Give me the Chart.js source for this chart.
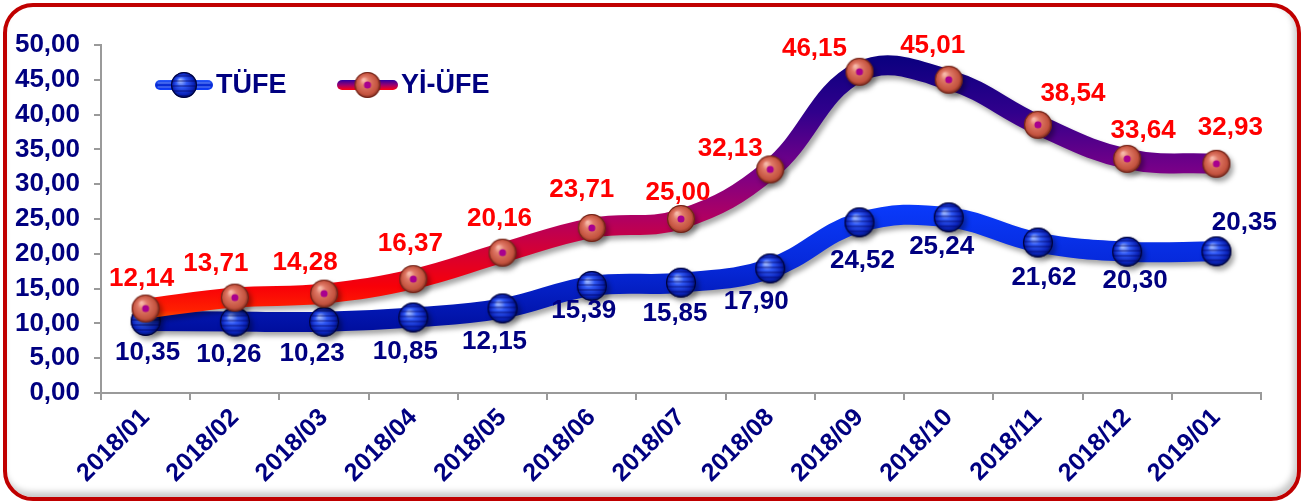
<!DOCTYPE html>
<html lang="tr">
<head>
    <meta charset="UTF-8">
    <title>TÜFE / Yİ-ÜFE</title>
    <script src="https://cdn.jsdelivr.net/npm/chart.js"></script>
    <style>
        html, body { margin: 0; padding: 0; background: #fff; }
        #wrap { position: relative; width: 1310px; height: 502px; overflow: hidden; }
        #frame {
            position: absolute; left: 3px; top: 3px; width: 1298px; height: 498px;
            box-sizing: border-box; border: 4px solid #c00000; border-radius: 30px;
            background: #fff;
            box-shadow: inset -3px -5px 6px rgba(0,0,0,0.22);
        }
        #chart { position: absolute; left: 0; top: 0; }
    </style>
</head>
<body>
<div id="wrap">
    <div id="frame"></div>
    <canvas id="chart" width="1310" height="502"></canvas>
</div>

<script>
    // data
    const months = ['2018/01', '2018/02', '2018/03', '2018/04', '2018/05', '2018/06', '2018/07',
                    '2018/08', '2018/09', '2018/10', '2018/11', '2018/12', '2019/01'];
    const tufe = [10.35, 10.26, 10.23, 10.85, 12.15, 15.39, 15.85, 17.90, 24.52, 25.24, 21.62, 20.30, 20.35];
    const yiufe = [12.14, 13.71, 14.28, 16.37, 20.16, 23.71, 25.00, 32.13, 46.15, 45.01, 38.54, 33.64, 32.93];
    const yTicks = [0, 5, 10, 15, 20, 25, 30, 35, 40, 45, 50];

    // label placement relative to the point (px)
    const tufeLabelShift = [[2,32],[-6,33],[-12,32],[-8,34],[-8,33],[-8,25],[-6,31],[-14,33],[3,38],[-7,29],[6,35],[8,29],[28,-29]];
    const yiufeLabelShift = [[-4,-30],[-19,-34],[-19,-31],[-3,-35],[-3,-34],[-10,-38],[-3,-26],[-40,-21],[-45,-23],[-16,-34],[35,-31],[16,-28],[14,-36]];

    const FONT = "'Liberation Sans', Arial, sans-serif";
    const NAVY = '#000080';

    const fmt = v => v.toFixed(2).replace('.', ',');

    // 3D looking marker balls
    function blueBall(r) {
        const c = document.createElement('canvas');
        c.width = c.height = 2 * r + 2;
        const g = c.getContext('2d');
        const m = r + 1;
        const grad = g.createRadialGradient(m - r * 0.3, m - r * 0.35, 1, m, m, r);
        grad.addColorStop(0, '#9ab4ff');
        grad.addColorStop(0.35, '#2f58f5');
        grad.addColorStop(0.8, '#0a22b8');
        grad.addColorStop(1, '#00105a');
        g.beginPath(); g.arc(m, m, r, 0, Math.PI * 2); g.fillStyle = grad; g.fill();
        g.save(); g.clip();
        g.fillStyle = 'rgba(0,0,90,0.35)';
        for (let y = m - r + 3; y < m + r; y += 5) g.fillRect(0, y, c.width, 2);
        g.restore();
        g.beginPath(); g.arc(m, m, r - 0.5, 0, Math.PI * 2);
        g.strokeStyle = '#000035'; g.lineWidth = 1; g.stroke();
        return c;
    }
    function redBall(r) {
        const c = document.createElement('canvas');
        c.width = c.height = 2 * r + 2;
        const g = c.getContext('2d');
        const m = r + 1;
        const grad = g.createRadialGradient(m - r * 0.3, m - r * 0.4, 1, m, m, r);
        grad.addColorStop(0, '#f6b8a8');
        grad.addColorStop(0.3, '#e07a68');
        grad.addColorStop(0.8, '#c4533f');
        grad.addColorStop(1, '#7a2a1e');
        g.beginPath(); g.arc(m, m, r, 0, Math.PI * 2); g.fillStyle = grad; g.fill();
        g.beginPath(); g.arc(m, m, r - 0.5, 0, Math.PI * 2);
        g.strokeStyle = '#6a1e14'; g.lineWidth = 0.8; g.stroke();
        g.beginPath(); g.arc(m, m, 3.5, 0, Math.PI * 2); g.fillStyle = '#a8008e'; g.fill();
        return c;
    }
    const ballTufe = blueBall(15), ballYiufe = redBall(14);
    const legTufe = blueBall(13), legYiufe = redBall(13);

    function yiufeGradient(ctx) {
        const chart = ctx.chart;
        if (!chart.chartArea) return '#c00040';
        const ys = chart.scales.y;
        const y0 = ys.getPixelForValue(48), y1 = ys.getPixelForValue(10);
        const g = chart.ctx.createLinearGradient(0, y0, 0, y1);
        g.addColorStop(0, '#0c0080');
        g.addColorStop(0.2, '#30008c');
        g.addColorStop(0.42, '#780088');
        g.addColorStop(0.6, '#b00062');
        g.addColorStop(0.74, '#d80030');
        g.addColorStop(0.86, '#f80008');
        g.addColorStop(0.95, '#ff2000');
        g.addColorStop(1, '#ff7000');
        return g;
    }
    function tufeGradient(ctx) {
        const chart = ctx.chart;
        if (!chart.chartArea) return '#0022cc';
        const ys = chart.scales.y;
        const g = chart.ctx.createLinearGradient(0, ys.getPixelForValue(28), 0, ys.getPixelForValue(8));
        g.addColorStop(0, '#0a3cff');
        g.addColorStop(0.5, '#0628d8');
        g.addColorStop(1, '#000c98');
        return g;
    }

    // shadow under lines and balls
    const shadowPlugin = {
        id: 'shadow',
        beforeDatasetsDraw(chart) {
            const c = chart.ctx;
            c.save();
            c.shadowColor = 'rgba(0,0,0,0.35)';
            c.shadowOffsetX = 3; c.shadowOffsetY = 4; c.shadowBlur = 5;
        },
        afterDatasetsDraw(chart) { chart.ctx.restore(); }
    };

    const valueLabels = {
        id: 'valueLabels',
        afterDatasetsDraw(chart) {
            const c = chart.ctx;
            c.save();
            c.font = 'bold 26px ' + FONT;
            c.textAlign = 'center';
            c.textBaseline = 'middle';
            chart.data.datasets.forEach((ds, i) => {
                const meta = chart.getDatasetMeta(i);
                const shift = i === 0 ? tufeLabelShift : yiufeLabelShift;
                c.fillStyle = i === 0 ? NAVY : '#ff0000';
                meta.data.forEach((pt, j) => {
                    c.fillText(fmt(ds.data[j]), pt.x + shift[j][0], pt.y + shift[j][1]);
                });
            });
            c.restore();
        }
    };

    const legendPlugin = {
        id: 'ballLegend',
        afterDraw(chart) {
            const c = chart.ctx;
            const y = 85;
            const items = [
                { x: 155, w: 58, ball: legTufe, label: chart.data.datasets[0].label, tufe: true },
                { x: 337, w: 61, ball: legYiufe, label: chart.data.datasets[1].label, tufe: false }
            ];
            c.save();
            items.forEach(it => {
                let g;
                if (it.tufe) {
                    g = c.createLinearGradient(0, y - 5, 0, y + 5);
                    g.addColorStop(0, '#2a5cff'); g.addColorStop(0.5, '#0628d0'); g.addColorStop(1, '#1040ff');
                } else {
                    g = c.createLinearGradient(0, y - 5, 0, y + 5);
                    g.addColorStop(0, '#2a00a0'); g.addColorStop(0.5, '#9a0070'); g.addColorStop(1, '#ff0010');
                }
                c.lineCap = 'round';
                c.lineWidth = 10;
                c.strokeStyle = g;
                c.beginPath(); c.moveTo(it.x + 5, y); c.lineTo(it.x + it.w - 5, y); c.stroke();
                if (it.tufe) {
                    c.strokeStyle = 'rgba(140,170,255,0.7)'; c.lineWidth = 1;
                    c.beginPath(); c.moveTo(it.x + 3, y - 2); c.lineTo(it.x + it.w - 3, y - 2); c.stroke();
                    c.beginPath(); c.moveTo(it.x + 3, y + 2); c.lineTo(it.x + it.w - 3, y + 2); c.stroke();
                }
                c.drawImage(it.ball, it.x + it.w / 2 - it.ball.width / 2, y - it.ball.height / 2);
                c.fillStyle = NAVY;
                c.font = 'bold 27px ' + FONT;
                c.textAlign = 'left';
                c.textBaseline = 'middle';
                c.fillText(it.label, it.x + it.w + 3, y + 1);
            });
            c.restore();
        }
    };

    const ctx = document.getElementById('chart').getContext('2d');
    const chart = new Chart(ctx, {
        type: 'line',
        data: {
            labels: months,
            datasets: [{
                label: 'TÜFE',
                data: tufe,
                borderColor: tufeGradient,
                borderWidth: 20,
                tension: 0.4,
                pointStyle: ballTufe,
                pointRadius: 15,
                order: 1
            }, {
                label: 'Yİ-ÜFE',
                data: yiufe,
                borderColor: yiufeGradient,
                borderWidth: 20,
                tension: 0.4,
                pointStyle: ballYiufe,
                pointRadius: 14,
                order: 0
            }]
        },
        options: {
            responsive: false,
            animation: false,
            events: [],
            layout: { padding: { left: 0, top: 45, right: 49, bottom: 0 } },
            plugins: {
                legend: { display: false },
                tooltip: { enabled: false }
            },
            scales: {
                x: {
                    offset: true,
                    afterFit: s => { s.height = 109; },
                    grid: { offset: true, drawOnChartArea: false, tickLength: 7, color: '#9a9a9a', lineWidth: 2 },
                    border: { color: '#9a9a9a', width: 2 },
                    ticks: {
                        color: NAVY,
                        font: { family: FONT, size: 25, weight: 'bold' },
                        minRotation: 45, maxRotation: 45,
                        padding: 3,
                        autoSkip: false
                    }
                },
                y: {
                    min: 0, max: 50,
                    afterFit: s => { s.width = 101; },
                    afterBuildTicks: s => { s.ticks = yTicks.map(v => ({ value: v })); },
                    grid: { drawOnChartArea: false, tickLength: 7, color: '#9a9a9a', lineWidth: 2 },
                    border: { color: '#9a9a9a', width: 2 },
                    ticks: {
                        color: NAVY,
                        font: { family: FONT, size: 26, weight: 'bold' },
                        padding: 14,
                        autoSkip: false,
                        callback: v => fmt(v)
                    }
                }
            }
        },
        plugins: [shadowPlugin, valueLabels, legendPlugin]
    });
</script>
</body>
</html>
